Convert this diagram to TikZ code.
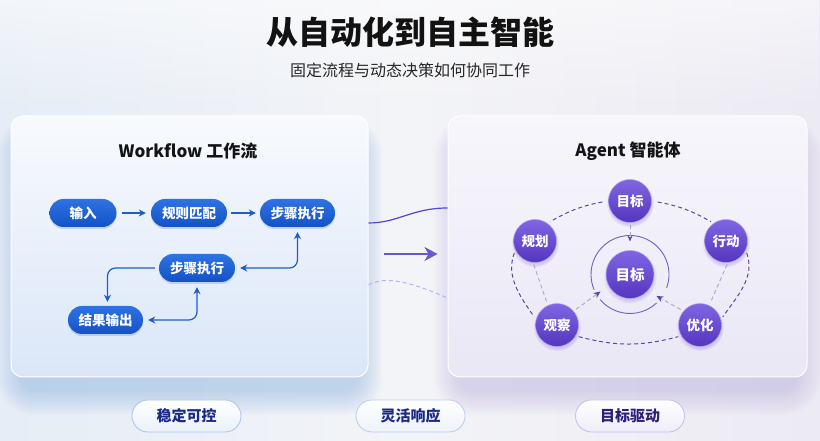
\documentclass[tikz,border=0pt]{standalone}
\usepackage{fontspec}
\setmainfont{Noto Sans CJK SC}
\usetikzlibrary{arrows.meta,calc,shadows,fadings}
\definecolor{bgL}{HTML}{E6EDF6}
\definecolor{bgM}{HTML}{F3F4F7}
\definecolor{bgR}{HTML}{ECEAF3}
\definecolor{shL}{HTML}{8DB5EA}
\definecolor{shR}{HTML}{B4A9E4}
\definecolor{lpT}{HTML}{F8FAFD}
\definecolor{lpB}{HTML}{DAE6F8}
\definecolor{rpT}{HTML}{F7F6FB}
\definecolor{rpB}{HTML}{EAE7F6}
\definecolor{pillT}{HTML}{2E72E4}
\definecolor{pillB}{HTML}{1452C4}
\definecolor{wfc}{HTML}{1E5CCC}
\definecolor{cT}{HTML}{7F66E3}
\definecolor{cB}{HTML}{5535BF}
\definecolor{agc}{HTML}{554B9C}
\definecolor{aglc}{HTML}{A9A4D0}
\definecolor{ringc}{HTML}{6F60C8}
\definecolor{linkc}{HTML}{6558CC}
\definecolor{navy}{HTML}{1B2A86}
\definecolor{navyp}{HTML}{2A1F7A}
\definecolor{bpB1}{HTML}{EAF1FB}
\definecolor{bpD1}{HTML}{A9C3EA}
\definecolor{bpB2}{HTML}{EEF2FB}
\definecolor{bpD2}{HTML}{BACBEC}
\definecolor{bpB3}{HTML}{EFECFA}
\definecolor{bpD3}{HTML}{C5BDEA}
\begin{document}
\begin{tikzpicture}[x=1pt,y=1pt,
  panel/.style={rectangle, rounded corners=12pt, draw=white, line width=1pt, inner sep=0pt, minimum height=261pt},
  pill/.style={rectangle, rounded corners=14pt, minimum height=28pt, inner sep=0pt, top color=pillT, bottom color=pillB, draw=none, text=white, font=\bfseries\fontsize{13.5}{13.5}\selectfont, drop shadow={shadow xshift=0pt, shadow yshift=-2pt, opacity=0.18, fill=pillB}},
  bpill/.style={rectangle, rounded corners=16pt, minimum width=109pt, minimum height=32pt, inner sep=0pt, top color=white, bottom color=#1, line width=0.8pt, font=\bfseries\fontsize{15}{15}\selectfont},
  agcirc/.style={circle, minimum size=43pt, inner sep=0pt, top color=cT, bottom color=cB, draw=cT!60!white, line width=0.5pt, text=white, font=\bfseries\fontsize{13.5}{13.5}\selectfont, circular drop shadow={shadow xshift=0pt, shadow yshift=-2pt, shadow scale=1.12, opacity=0.2, fill=cB}},
  heading/.style={font=\bfseries\fontsize{17}{17}\selectfont, text=black!92},
  wf/.style={draw=wfc, line width=1.2pt, rounded corners=8pt},
  agd/.style={draw=agc, line width=1pt, dash pattern=on 4pt off 3pt, shorten <=3pt, shorten >=3pt},
  agl/.style={draw=aglc, line width=0.9pt, dash pattern=on 4pt off 3pt},
  >={Stealth[length=7pt,width=7pt]}
]
\useasboundingbox (0,0) rectangle (820,441);
% background
\shade[left color=bgL, right color=bgR, middle color=bgM] (0,0) rectangle (820,441);
\fill[white, opacity=0.5, path fading=south] (0,330) rectangle (820,441);
% soft panel shadows (blurred, shifted down)
\foreach \e in {0,2,...,24}{
  \fill[shL, opacity=0.045, rounded corners=14pt+\e pt] (21-\e,50-\e) rectangle (358+\e,300+\e);
  \fill[shR, opacity=0.035, rounded corners=14pt+\e pt] (458-\e,50-\e) rectangle (797+\e,300+\e);
}
% panels
\node[panel, minimum width=357pt, top color=lpT, bottom color=lpB] (lp) at (189.5,194.5) {};
\node[panel, minimum width=359pt, top color=rpT, bottom color=rpB] (rp) at (627.5,194.5) {};
% title
\node[font=\bfseries\fontsize{32}{32}\selectfont, text=black!93] (title) at (410,409) {从自动化到自主智能};
\node[font=\fontsize{16}{16}\selectfont, text=black!85] (sub) at (410,371) {固定流程与动态决策如何协同工作};
% headings
\node[heading] (wfh) at (188,290) {Workflow 工作流};
\node[heading] (agh) at (628,290) {Agent 智能体};
% links between panels
\draw[line width=1.2pt, linkc!80!blue] (lp.east |- 0,218) .. controls (398,218) and (412,233) .. (rp.west |- 0,233);
\draw[line width=1.3pt, linkc, -{Stealth[length=13pt,width=14pt,inset=4pt]}] ($(lp.east |- 0,187)+(15,0)$) -- ($(rp.west |- 0,187)+(-10,0)$);
\draw[line width=1pt, blue!30!white, dash pattern=on 4pt off 3pt] (lp.east |- 0,156) .. controls (382,163) and (400,164) .. (rp.west |- 0,143);
% workflow pills
\node[pill, minimum width=67pt] (in) at (83,228) {输入};
\node[pill, minimum width=76pt] (match) at (189,228) {规则匹配};
\node[pill, minimum width=75pt] (step1) at (297.5,228) {步骤执行};
\node[pill, minimum width=76pt] (step2) at (197,173) {步骤执行};
\node[pill, minimum width=75pt] (out) at (105.5,121) {结果输出};
% workflow arrows
\draw[wf, ->] ($(in.east)+(5,0)$) -- ($(match.west)+(-5,0)$);
\draw[wf, ->] ($(match.east)+(4,0)$) -- ($(step1.west)+(-4,0)$);
\draw[wf, <->] ($(step1.south)+(0,-5)$) |- ($(step2.east)+(5,0)$);
\draw[wf, ->] ($(step2.west)+(-4,0)$) -| ($(out.north)+(2,4)$);
\draw[wf, <->] ($(out.east)+(5,0)$) -| ($(step2.south)+(0,-5)$);
% agent
\node[circle, minimum size=78pt, inner sep=0pt] (ring) at (630,166.5) {};
\draw[ringc, line width=0.9pt] ($(ring.center)+(-20:39)$) arc[start angle=-20, end angle=203, radius=39];
\draw[ringc, line width=0.9pt] ($(ring.center)+(220:39)$) arc[start angle=220, end angle=313, radius=39];
\node[agcirc] (t) at (630,240) {目标};
\node[agcirc] (p) at (535,200) {规划};
\node[agcirc] (a) at (726,200) {行动};
\node[agcirc] (o) at (557,116) {观察};
\node[agcirc] (y) at (700,116) {优化};
\node[agcirc, minimum size=48pt, font=\bfseries\fontsize{14.5}{14.5}\selectfont] (c) at (630,166.5) {目标};
\coordinate (tipL) at ($(ring.center)+(210:34)$);
\coordinate (tipR) at ($(ring.center)+(321:34)$);
\coordinate (tipT) at ($(ring.center)+(0,33)$);
% outer dashed loop
\draw[agd, shorten <=6pt] (t.west) to[out=190, in=30] (p.55);
\draw[agd, shorten <=6pt] (t.east) to[out=-10, in=150] (a.125);
\draw[agd] (p.205) to[out=250, in=125] (o.165);
\draw[agd] (a.-25) to[out=-70, in=55] (y.15);
\draw[agd] (o.-30) to[out=-15, in=195] (y.210);
% inner dashed
\draw[agl, shorten <=2pt, shorten >=3pt] (p.265) -- (o.115);
\draw[agl, shorten <=2pt, shorten >=3pt] (a.275) -- (y.65);
\draw[agl, shorten <=3pt, -{Stealth[length=7pt,width=6pt,color=agc]}] (o.40) -- (tipL);
\draw[agl, shorten <=3pt, -{Stealth[length=7pt,width=6pt,color=agc]}] (y.140) -- (tipR);
\draw[agl, shorten <=2pt, -{Stealth[length=6pt,width=5pt,color=agc]}] (t.south) -- (tipT);
% bottom pills
\node[bpill=bpB1, draw=bpD1, text=navy] (b1) at (186.5,25) {稳定可控};
\node[bpill=bpB2, draw=bpD2, text=navy] (b2) at (410.5,25) {灵活响应};
\node[bpill=bpB3, draw=bpD3, text=navyp] (b3) at (630,25) {目标驱动};
\end{tikzpicture}
\end{document}
